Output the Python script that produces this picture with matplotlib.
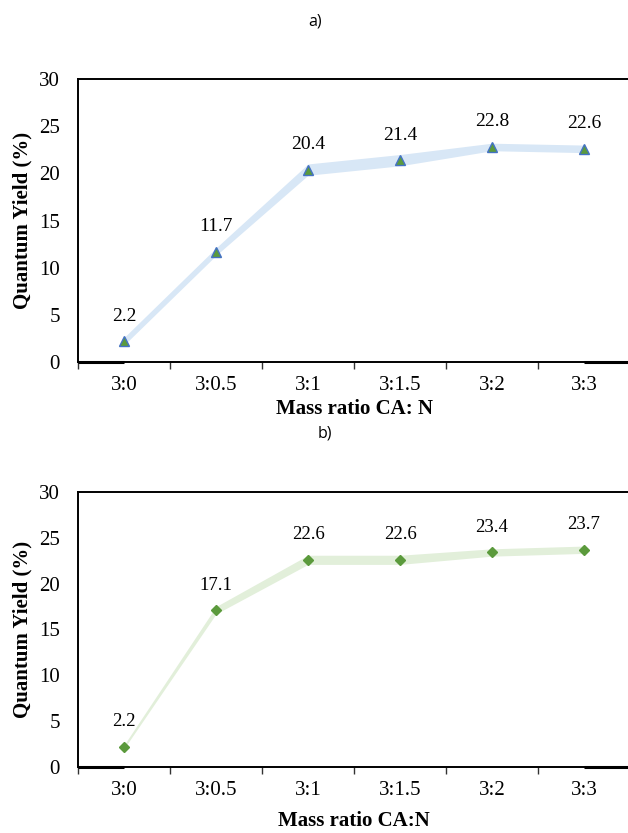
import numpy as np
import matplotlib.pyplot as plt

ratios = ['3:0', '3:0.5', '3:1', '3:1.5', '3:2', '3:3']

qy_a = [2.2, 11.7, 20.4, 21.4, 22.8, 22.6]
band_a_lo = [1.8, 11.3, 19.8, 20.8, 22.4, 22.2]
band_a_hi = [2.6, 12.1, 21.0, 22.0, 23.2, 23.0]

qy_b = [2.2, 17.1, 22.6, 22.6, 23.4, 23.7]
band_b_lo = [2.0, 16.7, 22.1, 22.1, 23.0, 23.3]
band_b_hi = [2.4, 17.5, 23.1, 23.1, 23.8, 24.1]

plt.rcParams['font.family'] = ['Liberation Serif', 'DejaVu Serif']

fig = plt.figure(figsize=(6.28, 8.33), dpi=100)
ax_a = fig.add_axes([0.1242, 0.5654, 0.879, 0.3397])
ax_b = fig.add_axes([0.1242, 0.0792, 0.879, 0.3302])

x = np.arange(len(ratios))


def style(ax, xlabel, lpad):
    ax.set_xlim(-0.5, len(ratios) - 0.5)
    ax.set_ylim(0, 30)
    ax.set_yticks(range(0, 31, 5))
    ax.set_xticks(x)
    ax.set_xticklabels(ratios)
    ax.set_xticks(np.arange(-0.5, len(ratios), 1), minor=True)
    ax.tick_params(axis='x', which='major', length=0, pad=10, labelsize=15)
    ax.tick_params(axis='x', which='minor', length=5, width=1, direction='out', color='#333333')
    ax.tick_params(axis='y', length=0, pad=13, labelsize=15)
    for s in ax.spines.values():
        s.set_linewidth(1.4)
        s.set_color('black')
    ax.set_xlabel(xlabel, fontsize=15, fontweight='bold', labelpad=lpad)
    ax.set_ylabel('Quantum Yield (%)', fontsize=15, fontweight='bold', labelpad=5)
    # slightly heavier pieces of the baseline at both ends
    ax.plot([-0.5, 0.0], [0, 0], color='black', lw=2.2, clip_on=False, solid_capstyle='butt')
    ax.plot([5.0, 5.5], [0, 0], color='black', lw=2.2, clip_on=False, solid_capstyle='butt')


# chart a
ax_a.fill_between(x, band_a_lo, band_a_hi, color='#d8e7f6', lw=0)
ax_a.plot(x, qy_a, linestyle='none', marker='^', markersize=7.5,
          markerfacecolor='#5b9a3c', markeredgecolor='#4472c4', markeredgewidth=1)
for xi, v in zip(x, qy_a):
    ax_a.annotate(f'{v:.1f}', (xi, v), textcoords='offset pixels', xytext=(0, 25),
                  ha='center', va='center', fontsize=14)
style(ax_a, 'Mass ratio CA: N', 3)

# chart b
ax_b.fill_between(x, band_b_lo, band_b_hi, color='#e2efda', lw=0)
ax_b.plot(x, qy_b, linestyle='none', marker='D', markersize=5.5,
          markerfacecolor='#5b9a3c', markeredgecolor='#5b9a3c')
for xi, v in zip(x, qy_b):
    ax_b.annotate(f'{v:.1f}', (xi, v), textcoords='offset pixels', xytext=(0, 25),
                  ha='center', va='center', fontsize=13.5)
style(ax_b, 'Mass ratio CA:N', 8)

fig.text(0.502, 1 - 22 / 833, 'a)', ha='center', va='center', fontsize=11.5, family=['Open Sans', 'DejaVu Sans'])
fig.text(0.517, 1 - 433 / 833, 'b)', ha='center', va='center', fontsize=11.5, family=['Open Sans', 'DejaVu Sans'])

fig.savefig('out.png', dpi=100)
